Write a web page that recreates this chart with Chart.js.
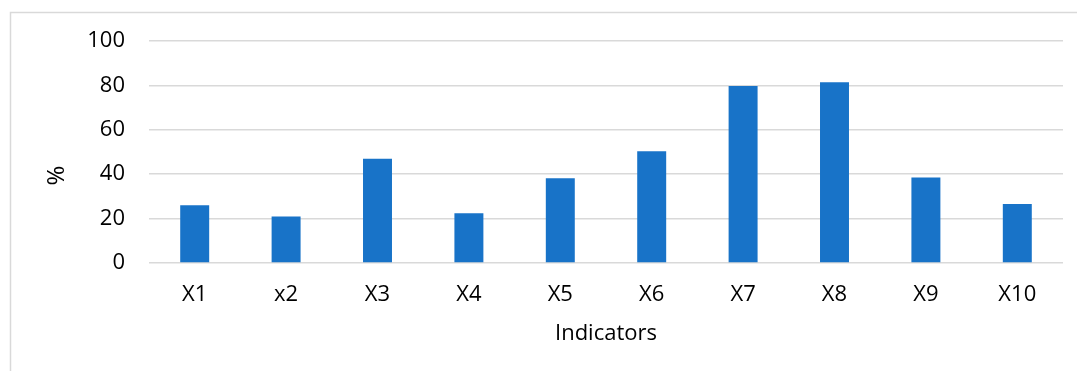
<!DOCTYPE html>
<html>
<head>
<meta charset="utf-8">
<script src="https://cdn.jsdelivr.net/npm/chart.js@4"></script>
<style>
  html, body { margin: 0; padding: 0; background: #ffffff; }
  #wrap { position: relative; width: 1077px; height: 371px; }
</style>
</head>
<body>
<div id="wrap"><canvas id="chart" width="1077" height="371"></canvas></div>
<script>
// Share of each indicator, in percent
const categories = ['X1', 'x2', 'X3', 'X4', 'X5', 'X6', 'X7', 'X8', 'X9', 'X10'];
const percentValues = [26.0, 20.9, 47.0, 22.4, 38.2, 50.3, 79.7, 81.4, 38.5, 26.6];
const yTickValues = [0, 20, 40, 60, 80, 100];
const xAxisTitle = 'Indicators';
const yAxisTitle = '%';

const FONT = "'Open Sans', 'Liberation Sans', sans-serif";
const BAR_BLUE = '#1873C8';
const GRID_GREY = '#d9d9d9';

// Light frame around the whole chart plus the rotated unit label
const framePlugin = {
  id: 'frameAndUnit',
  beforeDraw(chart) {
    const ctx = chart.ctx;
    ctx.save();
    ctx.fillStyle = '#ffffff';
    ctx.fillRect(0, 0, chart.width, chart.height);
    ctx.strokeStyle = GRID_GREY;
    ctx.lineWidth = 1.5;
    ctx.strokeRect(10.5, 12.5, chart.width + 20, chart.height + 20);
    ctx.restore();
  },
  afterDraw(chart) {
    const ctx = chart.ctx;
    ctx.save();
    ctx.translate(57.5, 175.5);
    ctx.rotate(-Math.PI / 2);
    ctx.fillStyle = '#000000';
    ctx.font = '24px ' + FONT;
    ctx.textAlign = 'center';
    ctx.textBaseline = 'middle';
    ctx.fillText(yAxisTitle, 0, 0);
    ctx.restore();
  }
};

new Chart(document.getElementById('chart'), {
  type: 'bar',
  data: {
    labels: categories,
    datasets: [{
      data: percentValues,
      backgroundColor: BAR_BLUE,
      borderWidth: 0,
      categoryPercentage: 1.0,
      barPercentage: 0.317
    }]
  },
  plugins: [framePlugin],
  options: {
    responsive: false,
    animation: false,
    devicePixelRatio: 1,
    layout: { padding: { left: 0, right: 14, top: 41, bottom: 0 } },
    plugins: {
      legend: { display: false },
      tooltip: { enabled: false }
    },
    scales: {
      x: {
        grid: { display: false, drawTicks: false },
        border: { display: false },
        ticks: {
          color: '#000000',
          font: { family: FONT, size: 22 },
          padding: 19,
          maxRotation: 0
        },
        title: {
          display: true,
          text: xAxisTitle,
          color: '#000000',
          font: { family: FONT, size: 22 },
          padding: { top: 0, bottom: 24 }
        },
        afterFit(scale) { scale.height = 108; }
      },
      y: {
        min: 0,
        max: 100,
        afterBuildTicks(scale) {
          scale.ticks = yTickValues.map(v => ({ value: v }));
        },
        grid: { color: GRID_GREY, lineWidth: 1.5, drawTicks: false },
        border: { display: false },
        ticks: {
          color: '#000000',
          font: { family: FONT, size: 22 },
          padding: 24
        },
        afterFit(scale) { scale.width = 149; }
      }
    }
  }
});
</script>
</body>
</html>
